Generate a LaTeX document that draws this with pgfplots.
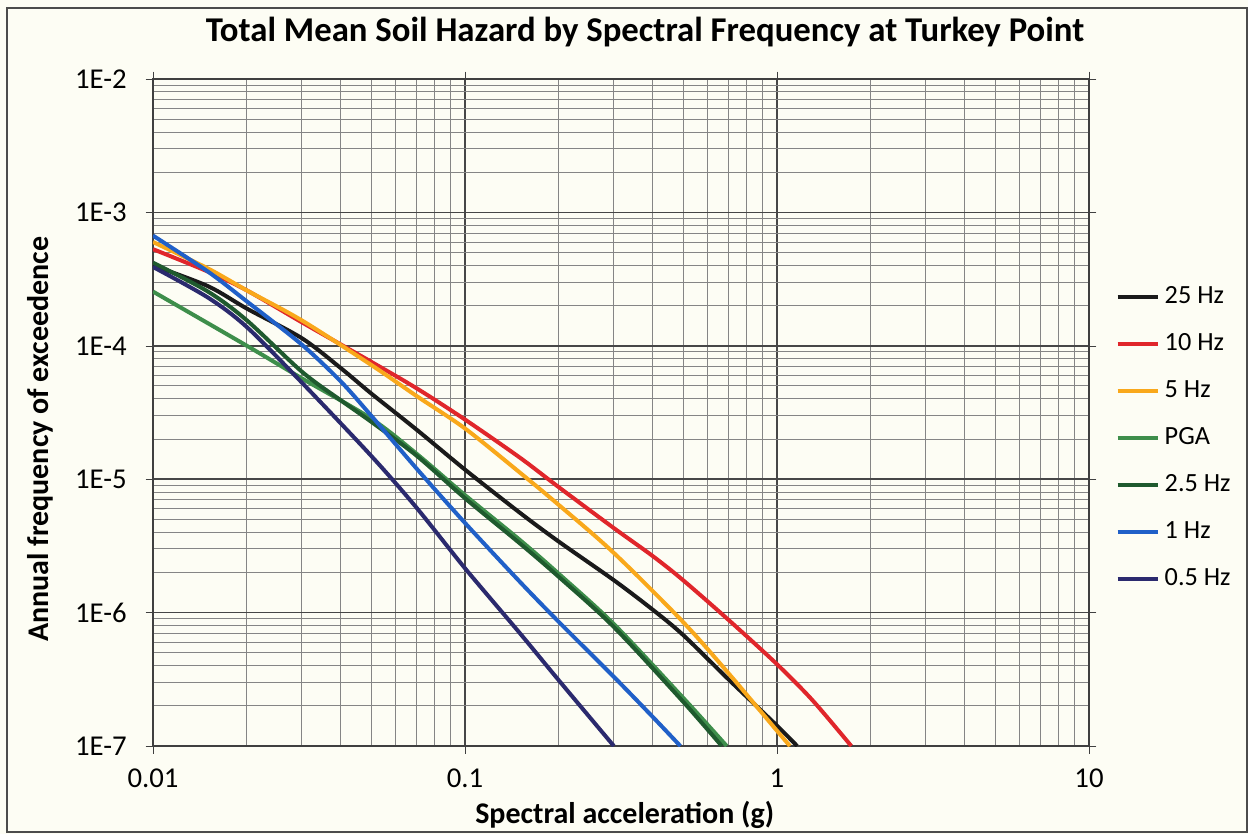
\documentclass[border=0pt]{standalone}
\usepackage{pgfplots}
\pgfplotsset{compat=1.18}
\usepackage{fontspec}
\setmainfont{Carlito}

\definecolor{bgcream}{HTML}{FDFDF4}
\definecolor{c25}{HTML}{1A1A1A}
\definecolor{c10}{HTML}{E0262B}
\definecolor{c5}{HTML}{F9A81B}
\definecolor{cpga}{HTML}{3E8E4B}
\definecolor{c25b}{HTML}{1F5A2E}
\definecolor{c1}{HTML}{2060C8}
\definecolor{c05}{HTML}{2B2A6E}

\begin{document}
\begin{tikzpicture}
\fill[bgcream] (-61.2pt,-35.2pt) rectangle (438pt,298.4pt);
\path[use as bounding box] (-61.2pt,-35.2pt) rectangle (438pt,298.4pt);
\draw[black!70, line width=0.8pt] (-58.4pt,-34.4pt) rectangle (437.4pt,295.2pt);
\begin{axis}[
  at={(0,0)}, anchor=south west,
  scale only axis, width=374.4pt, height=266.8pt,
  xmode=log, ymode=log,
  xmin=0.01, xmax=10, ymin=1e-7, ymax=1e-2,
  xtick={0.01,0.1,1,10}, xticklabels={0.01,0.1,1,10},
  ytick={1e-7,1e-6,1e-5,1e-4,1e-3,1e-2},
  yticklabels={1E-7,1E-6,1E-5,1E-4,1E-3,1E-2},
  grid=both,
  major grid style={black!72, line width=0.6pt},
  minor grid style={black!48, line width=0.38pt},
  axis line style={black!75, line width=0.6pt},
  tick align=outside, major tick length=3pt, minor tick length=0pt,
  tick style={black!75},
  axis background/.style={fill=bgcream},
  tick label style={font=\fontsize{11.5}{13}\selectfont},
  xticklabel shift=2.5pt, yticklabel shift=4pt,
  title={Total Mean Soil Hazard by Spectral Frequency at Turkey Point},
  title style={at={(axis description cs:0.5256,1.048)}, anchor=center,
    font=\bfseries\fontsize{13.9}{16}\selectfont},
  xlabel={Spectral acceleration (g)},
  x label style={at={(axis description cs:0.504,-0.1034)}, anchor=center,
    font=\bfseries\fontsize{12}{14}\selectfont},
  ylabel={Annual frequency of exceedence},
  y label style={at={(axis description cs:-0.1207,0.46)}, anchor=center,
    font=\bfseries\fontsize{12}{14}\selectfont},
  legend style={at={(axis description cs:1.028,0.697)}, anchor=north west,
    draw=none, fill=none, inner sep=0pt, row sep=6.5pt,
    font=\fontsize{10.5}{12}\selectfont,
    /tikz/every odd column/.style={column sep=0pt}},
  legend cell align=left,
  legend image code/.code={\draw[#1] (0pt,0pt) -- (16pt,0pt);},
  every axis plot/.append style={line width=1.6pt, smooth, no markers},
]
% 25 Hz
\addplot[c25] coordinates {(0.01,4.0e-4)(0.015,2.8e-4)(0.02,1.9e-4)(0.03,1.14e-4)(0.04,6.8e-5)(0.05,4.4e-5)(0.07,2.35e-5)(0.1,1.18e-5)(0.15,5.6e-6)(0.2,3.4e-6)(0.3,1.75e-6)(0.4,1.05e-6)(0.5,6.8e-7)(0.7,3.15e-7)(1.0,1.42e-7)(1.16,1e-7)};
\addlegendentry{25 Hz}
% 10 Hz
\addplot[c10] coordinates {(0.01,5.3e-4)(0.015,3.6e-4)(0.02,2.6e-4)(0.03,1.5e-4)(0.05,7.6e-5)(0.07,4.8e-5)(0.1,2.8e-5)(0.15,1.45e-5)(0.2,8.7e-6)(0.3,4.3e-6)(0.4,2.65e-6)(0.5,1.75e-6)(0.7,8.8e-7)(1.0,4.1e-7)(1.3,2.2e-7)(1.73,1e-7)};
\addlegendentry{10 Hz}
% 5 Hz
\addplot[c5] coordinates {(0.01,6.0e-4)(0.015,3.8e-4)(0.02,2.6e-4)(0.03,1.55e-4)(0.05,7.2e-5)(0.07,4.2e-5)(0.1,2.4e-5)(0.15,1.12e-5)(0.2,6.4e-6)(0.3,2.8e-6)(0.5,8.5e-7)(0.7,3.5e-7)(1.0,1.3e-7)(1.1,1e-7)};
\addlegendentry{5 Hz}
% PGA
\addplot[cpga] coordinates {(0.01,2.55e-4)(0.02,1.0e-4)(0.03,5.7e-5)(0.05,2.85e-5)(0.07,1.55e-5)(0.1,7.6e-6)(0.15,3.5e-6)(0.2,1.95e-6)(0.3,8.2e-7)(0.5,2.3e-7)(0.69,1e-7)};
\addlegendentry{PGA}
% 2.5 Hz
\addplot[c25b] coordinates {(0.01,4.2e-4)(0.015,2.55e-4)(0.02,1.55e-4)(0.03,6.4e-5)(0.04,3.9e-5)(0.05,2.7e-5)(0.07,1.5e-5)(0.1,7.2e-6)(0.15,3.3e-6)(0.2,1.85e-6)(0.3,7.8e-7)(0.5,2.15e-7)(0.665,1e-7)};
\addlegendentry{2.5 Hz}
% 1 Hz
\addplot[c1] coordinates {(0.01,6.7e-4)(0.015,3.6e-4)(0.02,2.15e-4)(0.03,1.02e-4)(0.04,5.4e-5)(0.05,3.0e-5)(0.07,1.2e-5)(0.1,4.7e-6)(0.15,1.7e-6)(0.2,8.5e-7)(0.3,3.3e-7)(0.4,1.65e-7)(0.49,1e-7)};
\addlegendentry{1 Hz}
% 0.5 Hz
\addplot[c05] coordinates {(0.01,3.9e-4)(0.015,2.3e-4)(0.02,1.38e-4)(0.03,5.3e-5)(0.05,1.5e-5)(0.07,6.1e-6)(0.1,2.15e-6)(0.15,7.0e-7)(0.2,3.1e-7)(0.3,1e-7)};
\addlegendentry{0.5 Hz}
\end{axis}
\end{tikzpicture}
\end{document}
